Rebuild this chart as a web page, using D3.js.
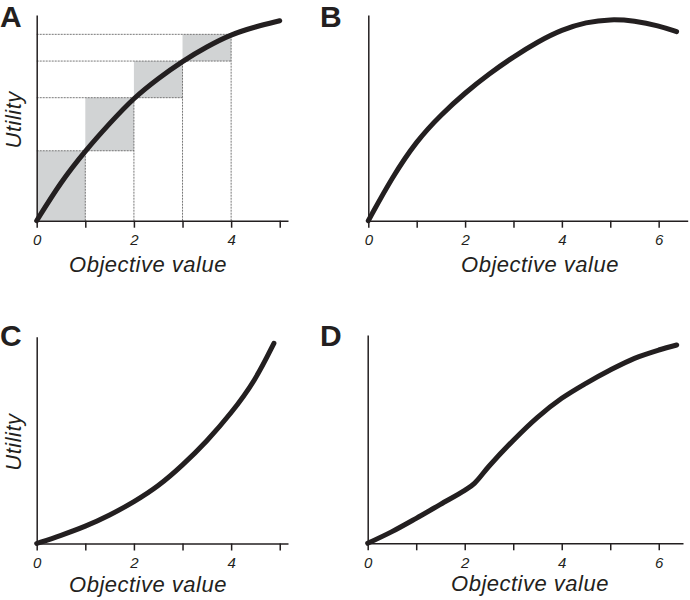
<!DOCTYPE html>
<meta charset="utf-8">
<script src="https://d3js.org/d3.v7.min.js"></script>
<style>
body{margin:0;background:#fff;}
text{font-family:"Liberation Sans",Arial,sans-serif;fill:#231f20;}
.axis path,.axis line{stroke:#231f20;stroke-width:1.5;}
.axis text{font-size:15px;font-style:italic;}
</style>
<div id="vis"></div>
<script>

// utility curves, x = objective value, u = utility (0-100 of axis height)
var xA = [0, 0.5, 1, 1.5, 2, 2.5, 3, 3.5, 4, 4.5, 5];
var uA = [0, 19, 34, 47.3, 59.8, 69.2, 77.6, 84.6, 90.6, 94.3, 97.2];

var xB = [0, 0.5, 1, 1.5, 2, 2.5, 3, 3.5, 4, 4.5, 5, 5.5, 6, 6.37];
var uB = [0, 21.4, 38.9, 51.5, 62.2, 71.5, 79.7, 87, 92.9, 96.5, 98, 97.2, 94.8, 91.9];

var xC = [0, 0.5, 1, 1.5, 2, 2.5, 3, 3.5, 4, 4.5, 4.88];
var uC = [0, 3.9, 8.2, 13.6, 20.1, 27.6, 37.8, 49.4, 62.9, 78.9, 96.8];

var xD = [0, 0.5, 1, 1.5, 2, 2.2, 2.5, 3, 3.5, 4, 4.5, 5, 5.5, 6, 6.37];
var uD = [0, 5.6, 12, 18.7, 25.4, 28.8, 37, 49.4, 60.5, 69.6, 76.8, 83.2, 88.8, 92.8, 95.2];

// step boxes in panel A
var steps = [0, 1, 2, 3, 4];
var stepU = [0, 34, 59.8, 77.6, 90.6];

var xTicks = [0, 1, 2, 3, 4, 5, 6];

var w = 690, h = 600;
var svg = d3.select("#vis").append("svg")
    .attr("width", w)
    .attr("height", h);

function panel(o) {
  var x = d3.scaleLinear().domain([0, o.xmax]).range([o.x0, o.x1]);
  var y = d3.scaleLinear().domain([0, 100]).range([o.y0, o.y1]);
  var g = svg.append("g");

  if (o.boxes) {
    var b = steps.slice(0, 4);
    g.selectAll(".box").data(b).enter().append("rect")
      .attr("x", function(d, i) { return x(steps[i]); })
      .attr("y", function(d, i) { return y(stepU[i + 1]); })
      .attr("width", function(d, i) { return x(steps[i + 1]) - x(steps[i]); })
      .attr("height", function(d, i) { return y(stepU[i]) - y(stepU[i + 1]); })
      .attr("fill", "#d1d3d4");
    // horizontal dashed lines
    g.selectAll(".hl").data(steps.slice(1)).enter().append("line")
      .attr("x1", x(0))
      .attr("x2", function(d, i) { return x(Math.min(steps[i + 1] + 1, 4)); })
      .attr("y1", function(d, i) { return y(stepU[i + 1]); })
      .attr("y2", function(d, i) { return y(stepU[i + 1]); })
      .attr("stroke", "#555").attr("stroke-width", 0.8).attr("stroke-dasharray", "2,1");
    // vertical dashed lines
    g.selectAll(".vl").data(steps.slice(1)).enter().append("line")
      .attr("x1", function(d) { return x(d); })
      .attr("x2", function(d) { return x(d); })
      .attr("y1", y(0))
      .attr("y2", function(d, i) { return y(stepU[i + 1]); })
      .attr("stroke", "#555").attr("stroke-width", 0.8).attr("stroke-dasharray", "2,1");
  }

  g.append("g").attr("class", "axis")
    .attr("transform", "translate(0," + o.y0 + ")")
    .call(d3.axisBottom(x)
      .tickValues(xTicks.filter(function(t) { return t <= o.xmax; }))
      .tickFormat(function(t) { return t % 2 ? "" : t; })
      .tickSize(7).tickPadding(7).tickSizeOuter(0));

  g.append("g").attr("class", "axis")
    .attr("transform", "translate(" + o.x0 + ",0)")
    .call(d3.axisLeft(y).tickValues([]).tickSizeOuter(0));

  var pts = o.xs.map(function(v, i) { return [v, o.us[i]]; });
  g.append("path")
    .datum(pts)
    .attr("fill", "none")
    .attr("stroke", "#231f20")
    .attr("stroke-width", 5)
    .attr("stroke-linecap", "round")
    .attr("d", d3.line()
      .x(function(d) { return x(d[0]); })
      .y(function(d) { return y(d[1]); })
      .curve(o.curve));

  g.append("text")
    .attr("x", o.labX)
    .attr("y", o.labY)
    .attr("text-anchor", "middle")
    .style("font-size", "22px").style("font-style", "italic")
    .style("letter-spacing", "0.5px")
    .text("Objective value");

  if (o.ylab) {
    g.append("text")
      .attr("transform", "translate(" + (o.x0 - 16) + "," + ((o.y0 + o.y1) / 2 + 2) + ") rotate(-90)")
      .attr("text-anchor", "middle")
      .style("font-size", "22px").style("font-style", "italic")
      .style("letter-spacing", "0.5px")
      .text("Utility");
  }

  g.append("text")
    .attr("x", o.lx).attr("y", o.ly)
    .style("font-size", "30px").style("font-weight", "bold")
    .text(o.letter);
}

panel({letter: "A", lx: 0, ly: 27, x0: 36.7, x1: 288, xmax: 5.17, y0: 220.7, y1: 15,
       xs: xA, us: uA, boxes: true, ylab: true, labX: 148, labY: 272, curve: d3.curveBasis});
panel({letter: "B", lx: 320, ly: 27, x0: 368.3, x1: 687.7, xmax: 6.6, y0: 220.7, y1: 15,
       xs: xB, us: uB, ylab: false, labX: 540, labY: 272, curve: d3.curveBasis});
panel({letter: "C", lx: 0, ly: 346, x0: 36.7, x1: 288, xmax: 5.17, y0: 543.5, y1: 336.7,
       xs: xC, us: uC, ylab: true, labX: 148, labY: 592, curve: d3.curveBasis});
panel({letter: "D", lx: 320, ly: 346, x0: 367.7, x1: 683, xmax: 6.5, y0: 543.3, y1: 335,
       xs: xD, us: uD, ylab: false, labX: 530, labY: 591, curve: d3.curveCatmullRom});

</script>
